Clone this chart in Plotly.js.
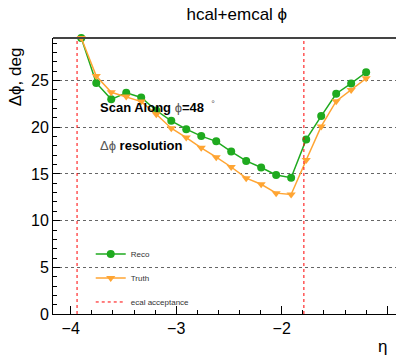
<!DOCTYPE html>
<html>
<head>
<meta charset="utf-8">
<script src="https://cdn.plot.ly/plotly-3.0.1.min.js"></script>
<style>html,body{margin:0;padding:0;background:#fff;}#chart{width:396px;height:357px;}</style>
</head>
<body>
<div id="chart"></div>
<script>
const eta = [-3.9, -3.758, -3.616, -3.474, -3.332, -3.189, -3.047, -2.905, -2.763, -2.621,
             -2.479, -2.337, -2.195, -2.053, -1.911, -1.768, -1.626, -1.484, -1.342, -1.2];
const reco = [29.56, 24.76, 23.0, 23.7, 23.2, 21.8, 20.7, 19.8, 19.06, 18.5,
              17.4, 16.4, 15.7, 14.9, 14.6, 18.7, 21.2, 23.6, 24.7, 25.9];
const truth = [29.56, 25.5, 23.76, 23.3, 22.76, 21.4, 19.9, 18.9, 17.8, 16.8,
               15.75, 14.55, 13.9, 12.95, 12.8, 16.5, 20.1, 22.8, 24.0, 25.25];
const ecalEdges = [-3.94, -1.79];
const yMax = 29.57;
const xTicks = [-4, -3, -2, -1];
const yTicks = [0, 5, 10, 15, 20, 25];

const green = '#1faa1f';
const orange = '#ffa533';

const ecalX = [], ecalY = [];
ecalEdges.forEach(function(e){ ecalX.push(e, e, null); ecalY.push(0, yMax, null); });

const traces = [
  {x: eta, y: reco, name: 'Reco', type: 'scatter', mode: 'lines+markers', cliponaxis: false,
   legendgroup: 'a', line: {color: green, width: 1.5}, marker: {color: green, symbol: 'circle', size: 8}},
  {x: eta, y: truth, name: 'Truth', type: 'scatter', mode: 'lines+markers', cliponaxis: false,
   legendgroup: 'b', line: {color: orange, width: 1.5}, marker: {color: orange, symbol: 'triangle-down', size: 8}},
  {x: ecalX, y: ecalY, name: 'ecal acceptance', type: 'scatter', mode: 'lines',
   legendgroup: 'c', line: {color: '#ff0000', width: 1, dash: '3px,3px'}}
];

const layout = {
  width: 396, height: 357,
  margin: {l: 53, r: 0, t: 37.5, b: 42.7},
  paper_bgcolor: '#fff', plot_bgcolor: '#fff',
  font: {family: 'Liberation Sans, Arial, sans-serif', color: '#000'},
  title: {text: 'hcal+emcal ϕ', font: {size: 17, color: '#000'}, x: 0.598, xanchor: 'center', y: 0.961, yanchor: 'middle'},
  showlegend: true,
  legend: {x: 0.11, xanchor: 'left', y: 0.27, yanchor: 'top', bgcolor: 'rgba(0,0,0,0)',
           font: {size: 8, color: '#333'}, traceorder: 'grouped', tracegroupgap: 5, itemwidth: 30},
  xaxis: {range: [-4.168, -0.917], tickvals: xTicks, ticks: 'inside', ticklen: 8, tickwidth: 1, tickcolor: '#000',
          showline: true, linecolor: '#000', linewidth: 1, showgrid: false, zeroline: false,
          tickfont: {size: 16},
          minor: {ticks: 'inside', ticklen: 4, dtick: 0.2, tick0: -4, tickcolor: '#000', showgrid: false}},
  yaxis: {range: [0, yMax], tickvals: yTicks, ticks: 'inside', ticklen: 7, tickwidth: 1, tickcolor: '#000',
          showline: true, linecolor: '#000', linewidth: 1, showgrid: true, gridcolor: '#666', griddash: 'dot', gridwidth: 1,
          zeroline: false, tickfont: {size: 16},
          minor: {ticks: 'inside', ticklen: 4, dtick: 1, tick0: 0, tickcolor: '#000', showgrid: false}},
  shapes: [
    {type: 'line', xref: 'paper', yref: 'paper', x0: 0, x1: 1, y0: 1, y1: 1, line: {color: '#444', width: 2}}
  ],
  annotations: [
    {text: 'Δϕ, deg', xref: 'paper', yref: 'paper', x: -0.111, y: 0.861, xanchor: 'center', yanchor: 'middle',
     textangle: -90, showarrow: false, font: {size: 17, color: '#000'}},
    {text: 'η', xref: 'paper', yref: 'paper', x: 0.962, y: -0.118, xanchor: 'center', yanchor: 'middle',
     showarrow: false, font: {size: 17, color: '#000'}},
    {text: '<b>Scan Along </b><span style="color:#555">ϕ</span><b>=48</b>  <sup><span style="color:#555">°</span></sup>',
     xref: 'paper', yref: 'paper', x: 0.131, y: 0.749, xanchor: 'left', yanchor: 'middle',
     showarrow: false, font: {size: 13, color: '#000'}},
    {text: '<span style="color:#555">Δϕ</span> <b>resolution</b>',
     xref: 'paper', yref: 'paper', x: 0.131, y: 0.612, xanchor: 'left', yanchor: 'middle',
     showarrow: false, font: {size: 13, color: '#000'}}
  ]
};

Plotly.newPlot('chart', traces, layout, {displayModeBar: false, staticPlot: true});
</script>
</body>
</html>
